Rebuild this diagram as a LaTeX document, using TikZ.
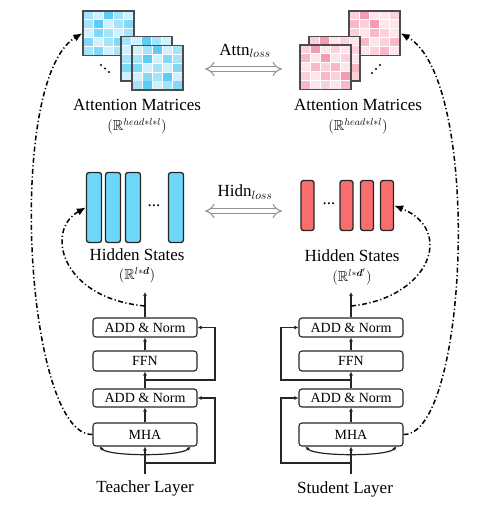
\documentclass[tikz,border=0pt]{standalone}
\usepackage{fontspec}
\setmainfont{Liberation Serif}
\usepackage{amsmath,amssymb}
\usetikzlibrary{arrows.meta}
\definecolor{b1}{HTML}{CFF0FC}
\definecolor{b2}{HTML}{A5E3F9}
\definecolor{b3}{HTML}{82D8F7}
\definecolor{b4}{HTML}{5BCDF5}
\definecolor{p1}{HTML}{FDE6EB}
\definecolor{p2}{HTML}{FBD2DC}
\definecolor{p3}{HTML}{F8B8C7}
\definecolor{p4}{HTML}{F49DB2}
\definecolor{tcol}{HTML}{6DD7F8}
\definecolor{scol}{HTML}{F86D6D}
\newcommand\drawmat[5]{%
  \fill[white] (#1,#2) rectangle ++(51,44.5);
  \foreach \c [count=\i from 0] in {#4} {
    \pgfmathtruncatemacro\cc{mod(\i,5)}
    \pgfmathtruncatemacro\rr{div(\i,5)}
    \fill[#3\c] ({#1+\cc*10.2+0.4},{#2+\rr*8.9+0.4}) rectangle ++(9.4,8.1);
  }
  \node[matb] (#5) at ({#1+25.5},{#2+22.25}) {};
}
\begin{document}
\begin{tikzpicture}[x=1pt,y=-1pt,
  matb/.style={draw=black!70, line width=1.3pt, minimum width=51pt, minimum height=44.5pt, inner sep=0pt},
  blk/.style={draw=black!85, line width=1.1pt, rounded corners=3pt, minimum width=104pt, inner sep=0pt, font=\fontsize{14}{15}\selectfont},
  lbl/.style={font=\fontsize{17}{19}\selectfont, inner sep=0pt},
  baselbl/.style={font=\fontsize{17}{19}\selectfont, inner sep=0pt, anchor=base},
  sublbl/.style={font=\fontsize{14.5}{16}\selectfont, inner sep=0pt, anchor=north},
  losslbl/.style={font=\fontsize{17}{19}\selectfont, inner sep=0pt},
  conn/.style={line width=1.2pt, draw=black!85, -{Latex[length=4pt,width=4pt]}},
  dd/.style={line width=1.5pt, dash pattern=on 5pt off 2.5pt on 1.2pt off 2.5pt, -{Latex[length=9pt,width=7.5pt]}},
  tbar/.style={draw=black!85, line width=1.3pt, rounded corners=2.5pt, fill=tcol, minimum width=15pt, minimum height=70pt, inner sep=0pt},
  sbar/.style={draw=black!85, line width=1.3pt, rounded corners=2.5pt, fill=scol, minimum width=13pt, minimum height=50pt, inner sep=0pt},
  lossarr/.style={double=white, double distance=3.8pt, line width=1.1pt, draw=gray!85, {Implies}-{Implies}},
  dotc/.style={fill=black, circle, inner sep=0pt, minimum size=2.4pt}
]
\useasboundingbox (0,0) rectangle (489,513);
\fill[white] (0,0) rectangle (489,513);

% ---- attention matrices (teacher)
\drawmat{83}{11}{b}{2,1,4,2,1, 2,4,1,2,3, 1,3,2,1,2, 3,1,2,3,1, 2,3,1,2,3}{tm1}
\drawmat{121}{36.5}{b}{2,1,4,2,1, 1,3,2,1,2, 2,1,3,2,4, 3,2,1,3,2, 1,3,2,4,1}{tm2}
\drawmat{132}{45.5}{b}{1,2,4,1,2, 2,4,1,3,2, 3,1,2,1,3, 1,3,2,4,1, 2,4,1,2,3}{tm3}
\node[dotc] (td1) at (101,65) {};
\node[dotc] (td2) at (105,68.5) {};
\node[dotc] (td3) at (109,72) {};
% ---- attention matrices (student)
\drawmat{349}{11}{p}{2,4,1,1,2, 3,2,4,1,1, 2,1,3,2,1, 1,3,1,2,3, 2,1,2,3,1}{sm1}
\drawmat{309}{36.5}{p}{2,4,1,2,1, 1,2,3,1,2, 3,1,2,4,1, 2,3,1,2,3, 1,2,3,1,2}{sm2}
\drawmat{300}{45}{p}{2,4,1,2,1, 3,1,4,1,2, 1,3,2,3,1, 2,1,3,2,4, 3,1,2,1,3}{sm3}
\node[dotc] (sd1) at (372,73) {};
\node[dotc] (sd2) at (376,69) {};
\node[dotc] (sd3) at (380,65) {};

\node[baselbl] (tatt) at (137,111) {Attention Matrices};
\node[sublbl] (tattd) at (137,118) {$(\mathbb{R}^{head*l*l})$};
\node[baselbl] (satt) at (358,111) {Attention Matrices};
\node[sublbl] (sattd) at (358,118) {$(\mathbb{R}^{head*l*l})$};

% ---- loss arrows
\node[losslbl] (attnl) at (245,51) {Attn$_{loss}$};
\coordinate (al) at (205,69);
\coordinate (ar) at (282,69);
\draw[lossarr] (al) -- (ar);
\node[losslbl] (hidnl) at (245,192) {Hidn$_{loss}$};
\coordinate (hl) at (205,211);
\coordinate (hr) at (282,211);
\draw[lossarr] (hl) -- (hr);

% ---- hidden states
\node[tbar] (tb1) at (94,207.5) {};
\node[tbar] (tb2) at (113,207.5) {};
\node[tbar] (tb3) at (133,207.5) {};
\node[tbar] (tb4) at (176,207.5) {};
\node[lbl] (tdots) at (154,206) {...};
\node[sbar] (sb1) at (307.5,205.5) {};
\node[sbar] (sb2) at (346.5,205.5) {};
\node[sbar] (sb3) at (367,205.5) {};
\node[sbar] (sb4) at (387,205.5) {};
\node[lbl] (sdots) at (329,204) {...};
\node[baselbl] (thid) at (137,260.5) {Hidden States};
\node[sublbl] (thidd) at (137,267.5) {$(\mathbb{R}^{l*\boldsymbol{d}})$};
\node[baselbl] (shid) at (352,261) {Hidden States};
\node[sublbl] (shidd) at (352,268) {$(\mathbb{R}^{l*\boldsymbol{d}'})$};

% ---- teacher layer
\node[blk, minimum height=19pt] (tan2) at (145,327.5) {ADD \& Norm};
\node[blk, minimum height=20pt] (tffn) at (145,361) {FFN};
\node[blk, minimum height=18pt] (tan1) at (145,398) {ADD \& Norm};
\node[blk, minimum height=23pt] (tmha) at (145,434.5) {MHA};
\node[lbl] (tlay) at (145,488) {Teacher Layer};
\coordinate (tin) at (145,474);
\coordinate (tout) at (145,292);
\coordinate (tr1) at (145,463);
\coordinate (tr2) at (145,380);
\coordinate (tdp) at (145,306);
\draw[conn] (tin) -- (tmha.south);
\draw[conn] (tmha) -- (tan1);
\draw[conn] (tan1) -- (tffn);
\draw[conn] (tffn) -- (tan2);
\draw[conn] (tan2) -- (tout);
\draw[conn] (tr1) -- (215,463) |- (tan1.east);
\draw[conn] (tr2) -- (215,380) |- (tan2.east);
\draw[conn, {Latex[length=4pt,width=4pt]}-{Latex[length=4pt,width=4pt]}]
  ([xshift=7pt]tmha.south west) .. controls +(10,10) and +(-10,10) .. ([xshift=-7pt]tmha.south east);

% ---- student layer
\node[blk, minimum height=19pt] (san2) at (351,327.5) {ADD \& Norm};
\node[blk, minimum height=20pt] (sffn) at (351,361) {FFN};
\node[blk, minimum height=18pt] (san1) at (351,398) {ADD \& Norm};
\node[blk, minimum height=23pt] (smha) at (351,434.5) {MHA};
\node[lbl] (slay) at (345,489) {Student Layer};
\coordinate (sin) at (351,474);
\coordinate (sout) at (351,292);
\coordinate (sr1) at (351,463);
\coordinate (sr2) at (351,380);
\coordinate (sdp) at (351,306);
\draw[conn] (sin) -- (smha.south);
\draw[conn] (smha) -- (san1);
\draw[conn] (san1) -- (sffn);
\draw[conn] (sffn) -- (san2);
\draw[conn] (san2) -- (sout);
\draw[conn] (sr1) -- (281,463) |- (san1.west);
\draw[conn] (sr2) -- (281,380) |- (san2.west);
\draw[conn, {Latex[length=4pt,width=4pt]}-{Latex[length=4pt,width=4pt]}]
  ([xshift=7pt]smha.south west) .. controls +(10,10) and +(-10,10) .. ([xshift=-7pt]smha.south east);

% ---- distillation curves
\draw[dd] (tmha.west) .. controls (25,436) and (5,80) .. (tm1.west);
\draw[dd] (smha.east) .. controls (468,436) and (483,80) .. (sm1.east);
\draw[dd] (tdp) .. controls (60,298) and (45,230) .. (tb1.west);
\draw[dd] (sdp) .. controls (430,298) and (455,230) .. (sb4.east);
\end{tikzpicture}
\end{document}
